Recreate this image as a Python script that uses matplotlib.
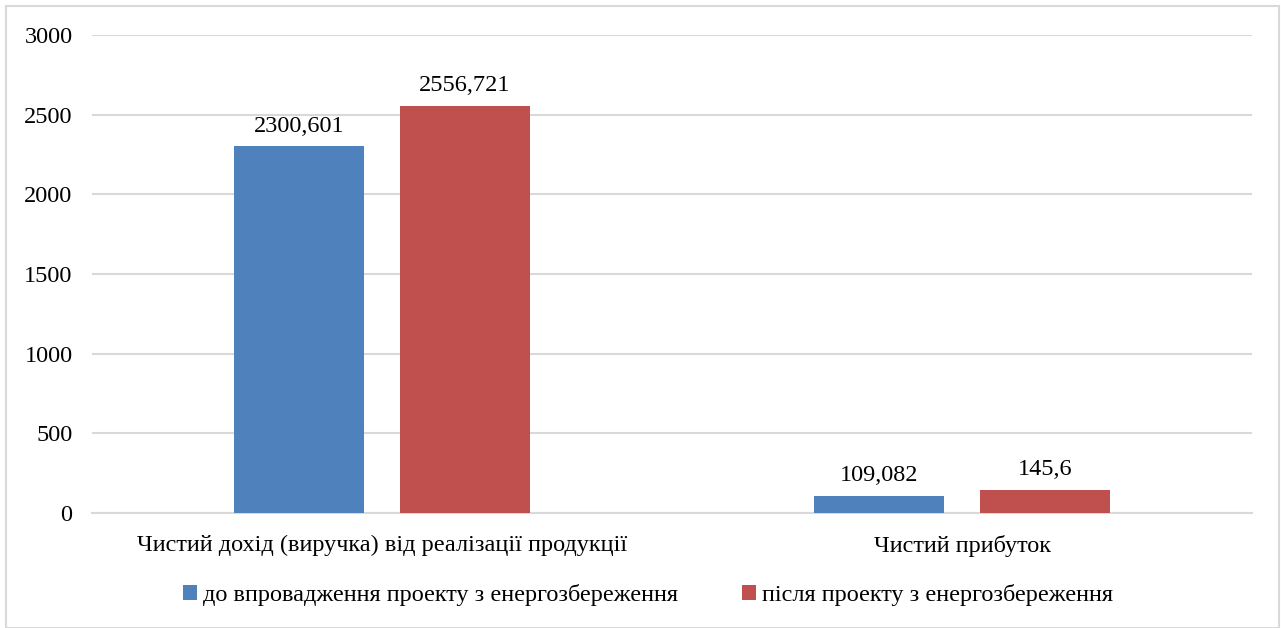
import numpy as np
import matplotlib.pyplot as plt
from matplotlib.patches import Rectangle

plt.rcParams['font.family'] = ['Liberation Serif', 'DejaVu Serif']

categories = ["Чистий дохід (виручка) від реалізації продукції", "Чистий прибуток"]
series_names = ["до впровадження проекту з енергозбереження",
                "після проекту з енергозбереження"]
before = [2300.601, 109.082]
after = [2556.721, 145.6]
before_labels = ["2300,601", "109,082"]
after_labels = ["2556,721", "145,6"]
colors = ["#4F81BD", "#C0504D"]

W, H = 1281, 628
fs = 17.5
fig = plt.figure(figsize=(W / 100, H / 100), dpi=100)
fig.patches.append(Rectangle((6 / W, 0), (W - 8) / W, (H - 6) / H, transform=fig.transFigure,
                             fill=False, edgecolor="#D9D9D9", linewidth=1.5))

ax = fig.add_axes([92 / W, 1 - 513 / H, (1252 - 92) / W, (513 - 35) / H])
x = np.arange(len(categories))
w = 0.224
off = 0.143
b1 = ax.bar(x - off, before, w, color=colors[0], label=series_names[0], zorder=3)
b2 = ax.bar(x + off, after, w, color=colors[1], label=series_names[1], zorder=3)

for bars, labs in [(b1, before_labels), (b2, after_labels)]:
    for r, t in zip(bars, labs):
        ax.annotate(t, (r.get_x() + r.get_width() / 2, r.get_height()),
                    xytext=(0, 7), textcoords="offset points",
                    ha="center", va="bottom", fontsize=fs)

ax.set_xlim(-0.5, 1.5)
ax.set_ylim(0, 3000)
ax.set_yticks(np.arange(0, 3001, 500))
ax.set_xticks(x)
ax.set_xticklabels(categories, fontsize=fs)
ax.tick_params(axis="y", labelsize=fs, length=0, pad=14)
ax.tick_params(axis="x", length=0, pad=16)
ax.grid(axis="y", color="#D9D9D9", linewidth=1.5, zorder=0)
for s in ["top", "right", "left"]:
    ax.spines[s].set_visible(False)
ax.spines["bottom"].set_color("#D9D9D9")
ax.spines["bottom"].set_linewidth(1.5)

fig.legend(loc="center", bbox_to_anchor=(648 / W, 1 - 595 / H), ncol=2, frameon=False,
           fontsize=fs, handlelength=0.6, handleheight=0.6, handletextpad=0.25,
           columnspacing=2.6)

fig.savefig("out.png", dpi=100)
